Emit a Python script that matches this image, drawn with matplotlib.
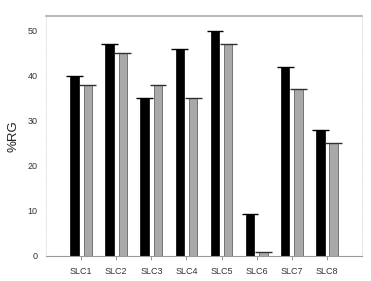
import numpy as np
import matplotlib.pyplot as plt

plt.rcParams["font.family"] = ["Liberation Sans", "DejaVu Sans"]

# %RG per sample line, two series (black / gray)
labels = ["SLC1", "SLC2", "SLC3", "SLC4", "SLC5", "SLC6", "SLC7", "SLC8"]
black_vals = [40, 47, 35, 46, 50, 9.3, 42, 28]
gray_vals = [38, 45, 38, 35, 47, 0.9, 37, 25]

fig = plt.figure(figsize=(3.71, 2.81), dpi=100)
ax = fig.add_axes([0.124, 0.089, 0.852, 0.854])

x = np.arange(1, len(labels) + 1)
w = 0.24
off = 0.19

ax.bar(x - off, black_vals, width=w, color="black", edgecolor="black", linewidth=0.5, zorder=2)
ax.bar(x + off, gray_vals, width=w, color="#a9a9a9", edgecolor="#505050", linewidth=0.5, zorder=2)

# caps on top of each bar
ax.hlines(black_vals, x - off - 0.24, x - off + 0.24, color="black", linewidth=1.0, zorder=3)
ax.hlines(gray_vals, x + off - 0.24, x + off + 0.24, color="#303030", linewidth=1.0, zorder=3)

ax.set_xlim(0, 9)
ax.set_ylim(0, 53.3)
ax.set_xticks(x)
ax.set_xticklabels(labels, fontsize=6.5, color="#333333")
ax.set_yticks([0, 10, 20, 30, 40, 50])
ax.tick_params(axis="y", length=0, labelsize=6.5, labelcolor="#333333", pad=6)
ax.tick_params(axis="x", length=3, width=0.6, color="#888888", pad=5)
ax.set_ylabel("%RG", fontsize=9.5, color="#222222", labelpad=6)

for s in ["left", "right"]:
    ax.spines[s].set_color("#dddddd")
    ax.spines[s].set_linestyle(":")
    ax.spines[s].set_linewidth(0.6)
ax.spines["top"].set_color("#aaaaaa")
ax.spines["top"].set_linewidth(1.2)
ax.spines["bottom"].set_color("#999999")
ax.spines["bottom"].set_linewidth(0.8)

fig.savefig("out.png", dpi=100)
